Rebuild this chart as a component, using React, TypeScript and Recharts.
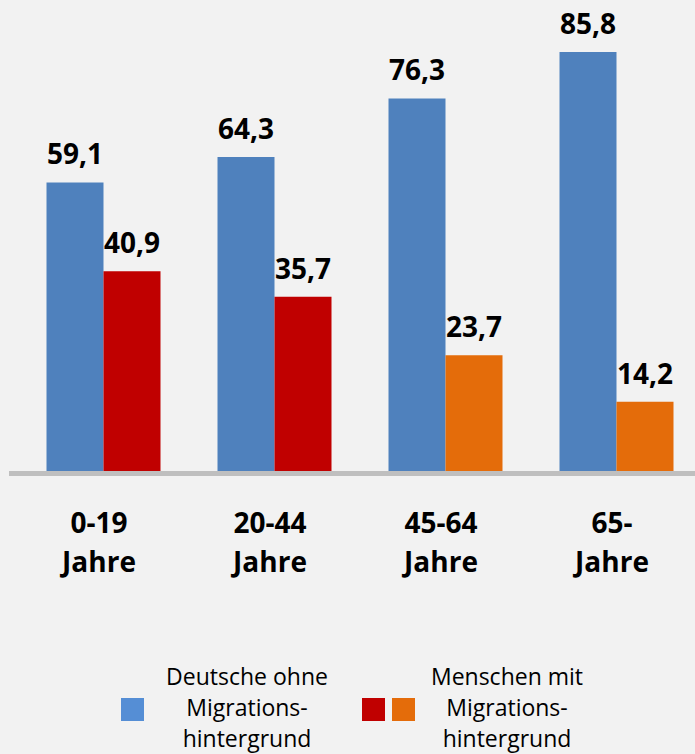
import React from "react";
import { BarChart, Bar, XAxis, YAxis, LabelList, Cell } from "recharts";

const categories = ["0-19\nJahre", "20-44\nJahre", "45-64\nJahre", "65-\nJahre"];
const deutscheOhne = [59.1, 64.3, 76.3, 85.8];
const mitMigration = [40.9, 35.7, 23.7, 14.2];
const migrationColors = ["#c00000", "#c00000", "#e46c0a", "#e46c0a"];
const legendLabels = ["Deutsche ohne\nMigrations-\nhintergrund", "Menschen mit\nMigrations-\nhintergrund"];

const data = categories.map((c, i) => ({ cat: c, deutsche: deutscheOhne[i], migration: mitMigration[i] }));

const FONT = "'Open Sans', 'DejaVu Sans', sans-serif";
const fmt = (v: any) => Number(v).toFixed(1).replace(".", ",");

const Tick = (props: any) => {
  const { x, y, payload } = props;
  const lines = String(payload.value).split("\n");
  return (
    <g>
      {lines.map((l, i) => (
        <text key={i} x={x - 4} y={y + 60 + i * 38.5} textAnchor="middle" fontFamily={FONT} fontWeight={700} fontSize={28} fill="#000">
          {l}
        </text>
      ))}
    </g>
  );
};

export default function App() {
  return (
    <div style={{ position: "absolute", left: 0, top: 0, width: 695, height: 754, background: "#f2f2f2", overflow: "hidden", fontFamily: FONT }}>
      <BarChart width={720} height={600} data={data} margin={{ top: 31.5, left: 9, right: 18.5, bottom: 99 }} barGap={0}>
        <YAxis hide domain={[0, 90]} />
        <XAxis
          dataKey="cat"
          height={30}
          padding={{ left: 8.5, right: 0 }}
          axisLine={{ stroke: "#bfbfbf", strokeWidth: 5, transform: "translate(0,2.5)" }}
          tickLine={false}
          tickSize={0}
          tick={<Tick />}
          interval={0}
        />
        <Bar dataKey="deutsche" fill="#4f81bd" barSize={57} isAnimationActive={false}>
          <LabelList dataKey="deutsche" position="top" offset={18} formatter={fmt} style={{ fontFamily: FONT, fontWeight: 700, fontSize: 28, fill: "#000" }} />
        </Bar>
        <Bar dataKey="migration" barSize={57} isAnimationActive={false}>
          {data.map((d, i) => (
            <Cell key={i} fill={migrationColors[i]} />
          ))}
          <LabelList dataKey="migration" position="top" offset={18} formatter={fmt} style={{ fontFamily: FONT, fontWeight: 700, fontSize: 28, fill: "#000" }} />
        </Bar>
      </BarChart>
      {/* Legend */}
      <div style={{ position: "absolute", left: 121, top: 698, width: 23, height: 23, background: "#558ed5" }} />
      <div style={{ position: "absolute", left: 147, top: 661, width: 200, textAlign: "center", fontSize: 23, lineHeight: "31px", color: "#000", whiteSpace: "pre" }}>
        {legendLabels[0]}
      </div>
      <div style={{ position: "absolute", left: 362, top: 698, width: 23, height: 23, background: "#c00000" }} />
      <div style={{ position: "absolute", left: 392, top: 698, width: 23, height: 23, background: "#e46c0a" }} />
      <div style={{ position: "absolute", left: 407, top: 661, width: 200, textAlign: "center", fontSize: 23, lineHeight: "31px", color: "#000", whiteSpace: "pre" }}>
        {legendLabels[1]}
      </div>
    </div>
  );
}
